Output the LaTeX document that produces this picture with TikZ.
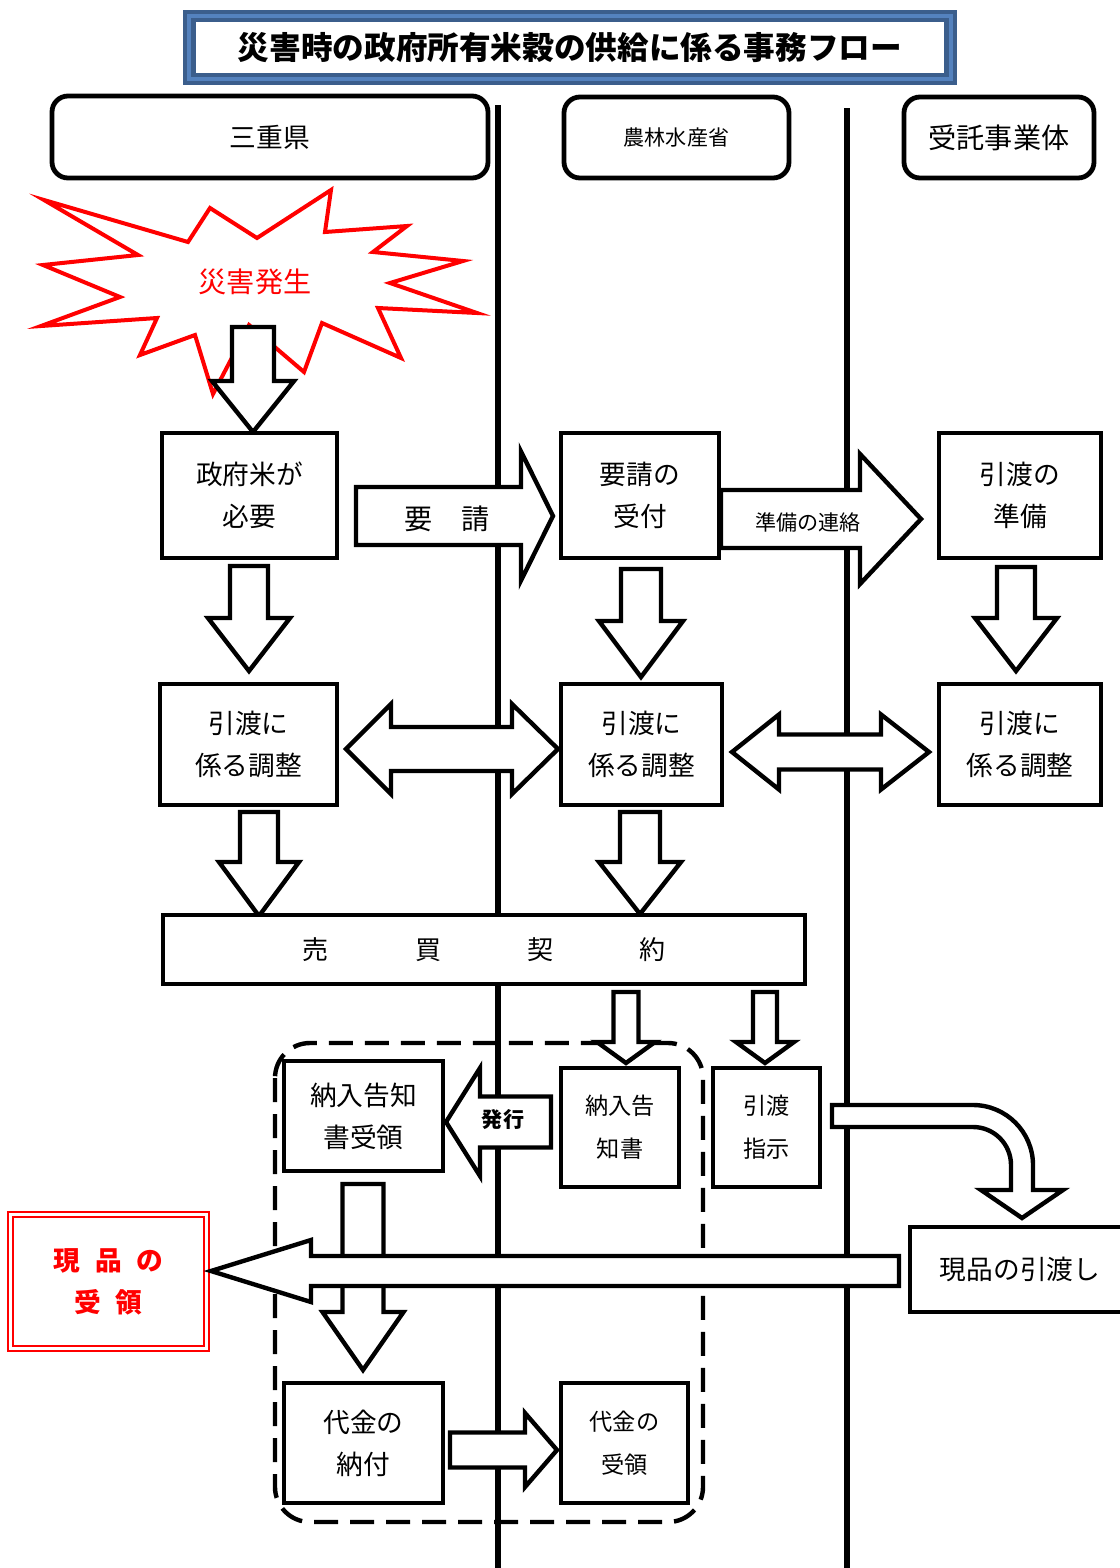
\documentclass[tikz,border=0pt]{standalone}
\usepackage{fontspec}
\newfontfamily\jp{Noto Sans CJK JP}
\definecolor{ttlblue}{RGB}{59,94,140}
\definecolor{ttllight}{RGB}{84,130,190}
\tikzset{
  box/.style={draw, line width=1mm, fill=white, align=center, inner sep=0pt, font=\jp\fontsize{19}{30}\selectfont},
  small/.style={font=\jp\fontsize{16.5}{30.5}\selectfont},
  lane/.style={box, rounded corners=4mm, line width=1.2mm},
  blk/.style={draw, line width=1.1mm, fill=white, line join=miter},
}
\newcommand\varrow[6]{\draw[blk] ({#1-#5},#2) -- ({#1+#5},#2) -- ({#1+#5},#3) -- ({#1+#6},#3) -- (#1,#4) -- ({#1-#6},#3) -- ({#1-#5},#3) -- cycle;}
\newcommand\harrow[6]{\draw[blk] (#2,{#1-#5}) -- (#3,{#1-#5}) -- (#3,{#1-#6}) -- (#4,#1) -- (#3,{#1+#6}) -- (#3,{#1+#5}) -- (#2,{#1+#5}) -- cycle;}
\newcommand\dharrow[7]{\draw[blk] (#2,#1) -- (#3,{#1-#7}) -- (#3,{#1-#6}) -- (#4,{#1-#6}) -- (#4,{#1-#7}) -- (#5,#1) -- (#4,{#1+#7}) -- (#4,{#1+#6}) -- (#3,{#1+#6}) -- (#3,{#1+#7}) -- cycle;}
\begin{document}
\begin{tikzpicture}[x=0.25mm, y=-0.25mm]
  \useasboundingbox (0,0) rectangle (1120,1568);
  \fill[ttlblue] (183,10) rectangle (957,85);
  \fill[ttllight] (187,14) rectangle (953,81);
  \fill[ttlblue] (191,18) rectangle (949,77);
  \fill[white] (196,22) rectangle (944,73);
  \node (title) at (570,47.5) [font=\jp\bfseries\fontsize{22.5}{27}\selectfont] {災害時の政府所有米穀の供給に係る事務フロー};
  \draw[line width=1.6mm] (498,105) -- (498,1568);
  \draw[line width=1.6mm] (847,108) -- (847,1568);
  \node[lane, minimum width=109mm, minimum height=20.5mm] (ken) at (270,137) {三重県};
  \node[lane, minimum width=56.25mm, minimum height=20.25mm, font=\jp\fontsize{15}{18}\selectfont] (maff) at (676.5,137.5) {農林水産省};
  \node[lane, minimum width=47.5mm, minimum height=20.25mm, font=\jp\fontsize{20}{24}\selectfont] (itaku) at (999,137.5) {受託事業体};
  \draw[red, line width=1mm, fill=white, line join=miter] (44,200) -- (138,255) -- (43,265) -- (120,297) -- (41,326) -- (157,318) -- (140,355) -- (195,335) -- (213,394) -- (249,325) -- (304,372) -- (322,323) -- (401,358) -- (378,308) -- (477,313) -- (390,283) -- (463,261) -- (373,252) -- (407,226) -- (325,232) -- (331,190) -- (257,238) -- (210,208) -- (188,242) -- cycle;
  \node[text=red, font=\jp\fontsize{20}{24}\selectfont] (hassei) at (255,282) {災害発生};
  \varrow{253}{327}{381}{432}{21}{41}
  \node[box, minimum width=43.75mm, minimum height=31.25mm] (hitsuyo) at (249.5,495.5) {政府米が\\必要};
  \node[box, minimum width=39.5mm, minimum height=31.25mm] (uketsuke) at (640,495.5) {要請の\\受付};
  \node[box, minimum width=40.5mm, minimum height=31.25mm] (junbi) at (1020,495.5) {引渡の\\準備};
  \harrow{516}{356}{521}{553}{29}{64.5}
  \node[font=\jp\fontsize{20}{24}\selectfont] (yosei) at (447,519) {要　請};
  \harrow{519}{721}{860}{921}{29}{65}
  \node[font=\jp\fontsize{15}{18}\selectfont] (renraku) at (808,522) {準備の連絡};
  \varrow{249}{566}{618}{671}{19}{41}
  \varrow{641}{569}{621}{677}{20}{42}
  \varrow{1016}{567}{618}{671}{19}{41}
  \node[box, minimum width=44.25mm, minimum height=30.25mm] (chosei1) at (248.5,744.5) {引渡に\\係る調整};
  \node[box, minimum width=40.25mm, minimum height=30.25mm] (chosei2) at (641.5,744.5) {引渡に\\係る調整};
  \node[box, minimum width=40.5mm, minimum height=30.25mm] (chosei3) at (1020,744.5) {引渡に\\係る調整};
  \dharrow{749}{346}{391}{512}{558}{22}{45}
  \dharrow{752}{732}{779}{881}{929}{17.5}{37.5}
  \varrow{259}{812}{862}{916}{19}{40}
  \varrow{640}{812}{862}{914}{20}{41}
  \node[box, minimum width=160.5mm, minimum height=17.25mm, font=\jp\fontsize{18.5}{22}\selectfont] (baibai) at (484,949.5) {};
  \node[font=\jp\fontsize{18.5}{22}\selectfont] at (316,950) {売};
  \node[font=\jp\fontsize{18.5}{22}\selectfont] at (428,950) {買};
  \node[font=\jp\fontsize{18.5}{22}\selectfont] at (540,950) {契};
  \node[font=\jp\fontsize{18.5}{22}\selectfont] at (652,950) {約};
  \draw[line width=1.1mm, dash pattern=on 6mm off 3mm, rounded corners=8.75mm] (275,1043) rectangle (703,1522);
  \varrow{626}{992}{1042}{1063}{12.5}{29}
  \varrow{765}{992}{1042}{1063}{12}{29}
  \node[box, minimum width=39.75mm, minimum height=27.5mm] (nonyuryo) at (363.5,1116) {納入告知\\書受領};
  \node[box, small, minimum width=29.5mm, minimum height=29.75mm] (nonyusho) at (620,1127.5) {納入告\\知書};
  \node[box, small, minimum width=26.75mm, minimum height=29.75mm] (shiji) at (766.5,1127.5) {引渡\\指示};
  \harrow{1122}{551}{480}{446}{25.5}{54}
  \node[font=\jp\bfseries\fontsize{15}{18}\selectfont] (hakko) at (503,1120) {発行};
  \draw[blk] (832,1105) -- (973,1105) .. controls (1006,1105) and (1033,1132) .. (1033,1165) -- (1033,1190) -- (1063,1190) -- (1022,1218) -- (981,1190) -- (1011,1190) -- (1011,1165) .. controls (1011,1144) and (994,1127) .. (973,1127) -- (832,1127) -- cycle;
  \node[box, minimum width=55mm, minimum height=21.25mm] (hikiwatashi) at (1020,1269.5) {現品の引渡し};
  \varrow{363}{1184}{1312}{1370}{20.5}{40.5}
  \node[box, draw=red, double=white, double distance=0.8mm, line width=0.5mm, text=red, font=\jp\bfseries\fontsize{19}{30}\selectfont, minimum width=48.9mm, minimum height=33.5mm] (juryo) at (108.5,1281.5) {現\hspace{.55em}品\hspace{.55em}の\\受\hspace{.55em}領};
  \harrow{1271}{899}{311}{211}{15}{31}
  \node[box, minimum width=39.75mm, minimum height=30mm] (nofu) at (363.5,1443) {代金の\\納付};
  \node[box, small, minimum width=31.75mm, minimum height=30mm] (daikin) at (624.5,1443) {代金の\\受領};
  \harrow{1450}{450}{525}{557}{17.5}{37}
\end{tikzpicture}
\end{document}
